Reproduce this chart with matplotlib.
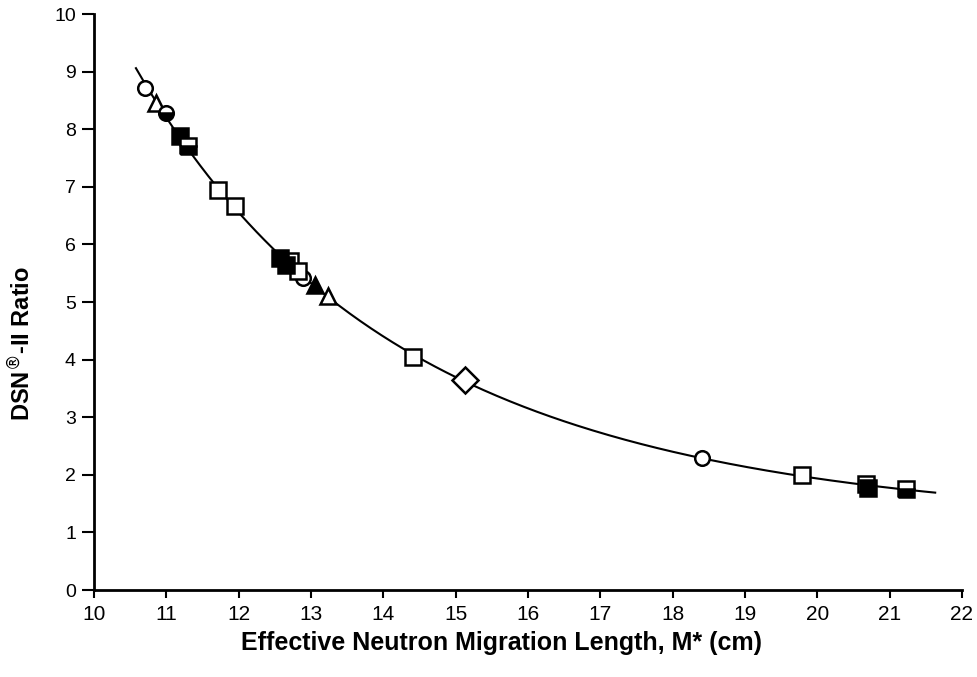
import numpy as np
import matplotlib
matplotlib.use("Agg")
import matplotlib.pyplot as plt

plt.rcParams['font.family'] = ['Liberation Sans', 'DejaVu Sans']

# data
open_circle_x = [10.70, 12.89, 18.40]
open_circle_y = [8.72, 5.42, 2.29]
open_tri_x = [10.86, 13.24]
open_tri_y = [8.46, 5.10]
half_circle_x = [10.99]
half_circle_y = [8.28]
filled_sq_x = [11.19, 12.57, 12.66, 20.70]
filled_sq_y = [7.88, 5.76, 5.64, 1.77]
open_sq_x = [11.72, 11.95, 12.71, 12.82, 14.41, 19.79, 20.68]
open_sq_y = [6.94, 6.66, 5.72, 5.53, 4.05, 1.99, 1.84]
half_sq_x = [11.30, 21.22]
half_sq_y = [7.70, 1.76]
filled_tri_x = [13.06]
filled_tri_y = [5.29]
open_dia_x = [15.13]
open_dia_y = [3.64]

curve_start = 10.58
curve_end = 21.63

xticks = list(range(10, 23))
yticks = list(range(0, 11))

fig = plt.figure(figsize=(9.77, 6.77), dpi=100)
ax = fig.add_axes([0.0962, 0.1285, 0.8884, 0.8508])

# smooth fitted curve through all points (log y vs x, cubic)
allx = np.array(open_circle_x + open_tri_x + half_circle_x + filled_sq_x + open_sq_x
                + half_sq_x + filled_tri_x + open_dia_x)
ally = np.array(open_circle_y + open_tri_y + half_circle_y + filled_sq_y + open_sq_y
                + half_sq_y + filled_tri_y + open_dia_y)
coef = np.polyfit(allx, np.log(ally), 3)
cx = np.linspace(curve_start, curve_end, 300)
ax.plot(cx, np.exp(np.polyval(coef, cx)), color='black', lw=1.5, zorder=1)

mk = dict(linestyle='none', color='black', markeredgecolor='black', markeredgewidth=1.8, zorder=3)
ax.plot(open_circle_x, open_circle_y, marker='o', ms=10.5, markerfacecolor='white', **mk)
ax.plot(open_tri_x, open_tri_y, marker='^', ms=11, markerfacecolor='white', **mk)
ax.plot(half_circle_x, half_circle_y, marker='o', ms=10.5, fillstyle='bottom',
        markerfacecolor='black', markerfacecoloralt='white', **mk)
ax.plot(open_sq_x, open_sq_y, marker='s', ms=12, markerfacecolor='white', **mk)
ax.plot(filled_sq_x, filled_sq_y, marker='s', ms=12, markerfacecolor='black', **mk)
ax.plot(half_sq_x, half_sq_y, marker='s', ms=12, fillstyle='bottom',
        markerfacecolor='black', markerfacecoloralt='white', **mk)
ax.plot(filled_tri_x, filled_tri_y, marker='^', ms=11, markerfacecolor='black', **mk)
ax.plot(open_dia_x, open_dia_y, marker='D', ms=13, markerfacecolor='white', **mk)

ax.set_xlim(10, 22)
ax.set_ylim(0, 10)
ax.set_xticks(xticks)
ax.set_yticks(yticks)
ax.spines['top'].set_visible(False)
ax.spines['right'].set_visible(False)
ax.spines['left'].set_linewidth(2)
ax.spines['bottom'].set_linewidth(2)
ax.tick_params(axis='y', direction='out', length=9, width=1.5, labelsize=14, pad=4)
ax.tick_params(axis='x', direction='out', length=6, width=1.5, labelsize=15, pad=5)

fig.text(0.513, 0.05, "Effective Neutron Migration Length, M* (cm)",
         ha='center', va='center', fontsize=18, fontweight='bold')
fig.text(0.022, 0.493, r"DSN$^{\circledR}$-II Ratio", ha='center', va='center',
         rotation=90, fontsize=17, fontweight='bold')

fig.savefig("out.png", dpi=100)
